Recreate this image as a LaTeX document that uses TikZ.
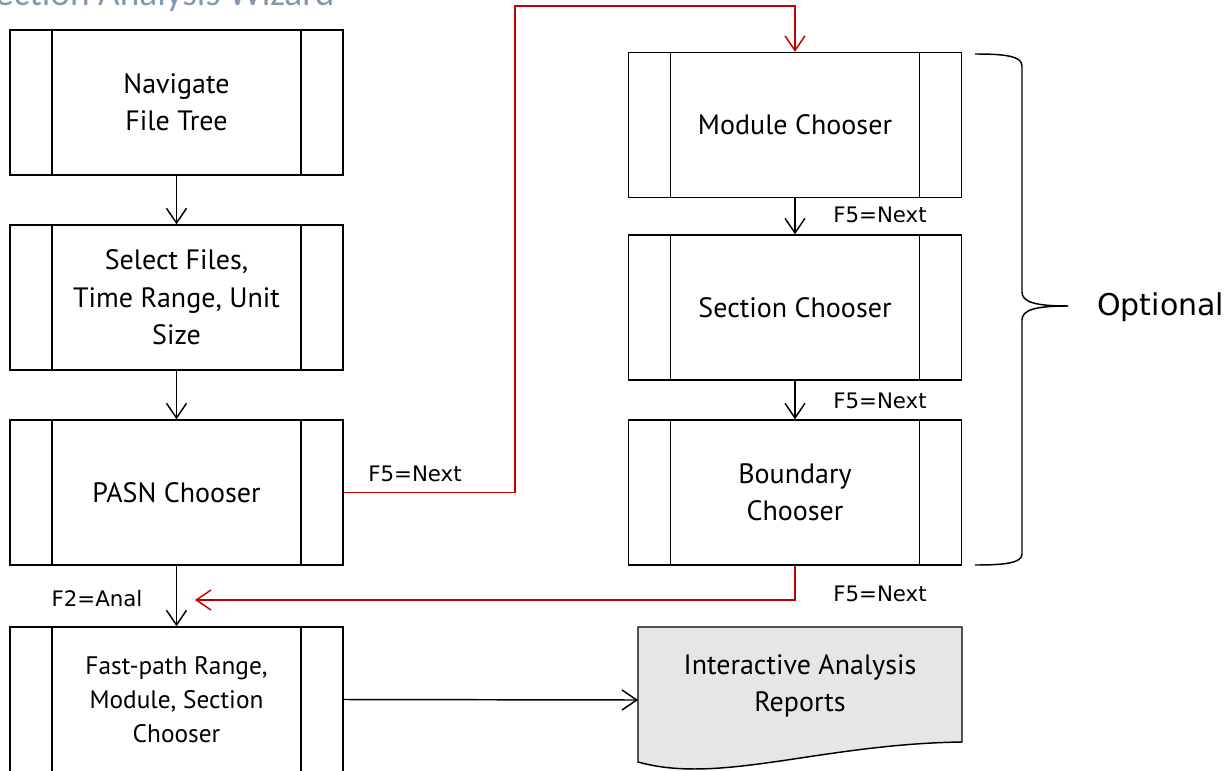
\documentclass[tikz,border=0pt]{standalone}
\usepackage{fontspec}
\setmainfont{PT Sans}
\newfontfamily\lblfont{DejaVu Sans}
\newfontfamily\titlefont{Carlito}
\usetikzlibrary{arrows.meta}
\definecolor{redline}{HTML}{C00000}
\definecolor{titlecol}{HTML}{8496B0}
\definecolor{docfill}{HTML}{E6E6E6}
\begin{document}
\begin{tikzpicture}[x=0.75pt,y=-0.75pt,
  proc/.style={draw, line width=1.1pt, minimum width=249.75pt, minimum height=108.75pt,
    align=center, inner sep=0pt, font=\fontsize{21}{28}\selectfont,
    path picture={
      \draw[line width=1.1pt] ([xshift=31.5pt]path picture bounding box.north west) -- ([xshift=31.5pt]path picture bounding box.south west);
      \draw[line width=1.1pt] ([xshift=-31.5pt]path picture bounding box.north east) -- ([xshift=-31.5pt]path picture bounding box.south east);
    }},
  arr/.style={line width=1.1pt, -{Straight Barb[length=11pt,width=15pt,line width=1.1pt]}},
  redarr/.style={arr, draw=redline, color=redline},
  lbl/.style={font=\lblfont\fontsize{16}{18}\selectfont, inner sep=0pt}
]
\useasboundingbox (0,0) rectangle (1229,771);

% title (cut off at the top edge, as in the reference)
\node[anchor=base west, inner sep=0pt, text=titlecol, font=\titlefont\fontsize{28}{32}\selectfont] (title) at (-5,6) {ection Analysis Wizard};

% left column
\node[proc] (nav) at (176.5,102.5) {Navigate\\File Tree};
\node[proc] (sel) at (176.5,297.5) {Select Files,\\Time Range, Unit\\Size};
\node[proc] (pasn) at (176.5,492.5) {PASN Chooser};
\node[proc, font=\fontsize{19}{25.5}\selectfont] (fast) at (176.5,699.5) {Fast-path Range,\\Module, Section\\Chooser};

% right column
\node[proc] (mod) at (795,125) {Module Chooser};
\node[proc] (sec) at (795,307.5) {Section Chooser};
\node[proc] (bnd) at (795,492.5) {Boundary\\Chooser};

% document shape
\coordinate (rep) at (800,686);
\draw[line width=1.1pt, fill=docfill] (638,627) -- (962,627) -- (962,742)
  .. controls (820,744) and (720,785) .. (638,762) -- cycle;
\node[align=center, inner sep=0pt, font=\fontsize{21}{28}\selectfont] (reptext) at (rep) {Interactive Analysis\\Reports};

% connectors
\draw[arr] (nav) -- (sel);
\draw[arr] (sel) -- (pasn);
\draw[arr] (pasn) -- (fast);
\draw[arr] (mod) -- (sec);
\draw[arr] (sec) -- (bnd);
\coordinate (repin) at (638,700);
\draw[arr] (fast.east) -- (repin);

\coordinate (r1) at (515,6);
\coordinate (r2) at (195,600);
\draw[redarr] (pasn.east) -| (r1) -| (mod.north);
\draw[redarr] (bnd.south) |- (r2);

% labels
\node[lbl] (l1) at (415,474) {F5=Next};
\node[lbl] (l2) at (97,599) {F2=Anal};
\node[lbl] (l3) at (880,215) {F5=Next};
\node[lbl] (l4) at (880,401) {F5=Next};
\node[lbl] (l5) at (880,594) {F5=Next};

% brace
\draw[line width=1.1pt] (975,54) .. controls (1005,54) and (1022,56) .. (1022,66) -- (1022,292)
  .. controls (1022,302) and (1035,306) .. (1068,306);
\draw[line width=1.1pt] (1068,306) .. controls (1035,306) and (1022,310) .. (1022,320) -- (1022,554)
  .. controls (1022,563) and (1005,565) .. (975,565);
\node[font=\lblfont\fontsize{22.5}{26}\selectfont, anchor=west, inner sep=0pt] (opt) at (1097,307) {Optional};
\end{tikzpicture}
\end{document}
